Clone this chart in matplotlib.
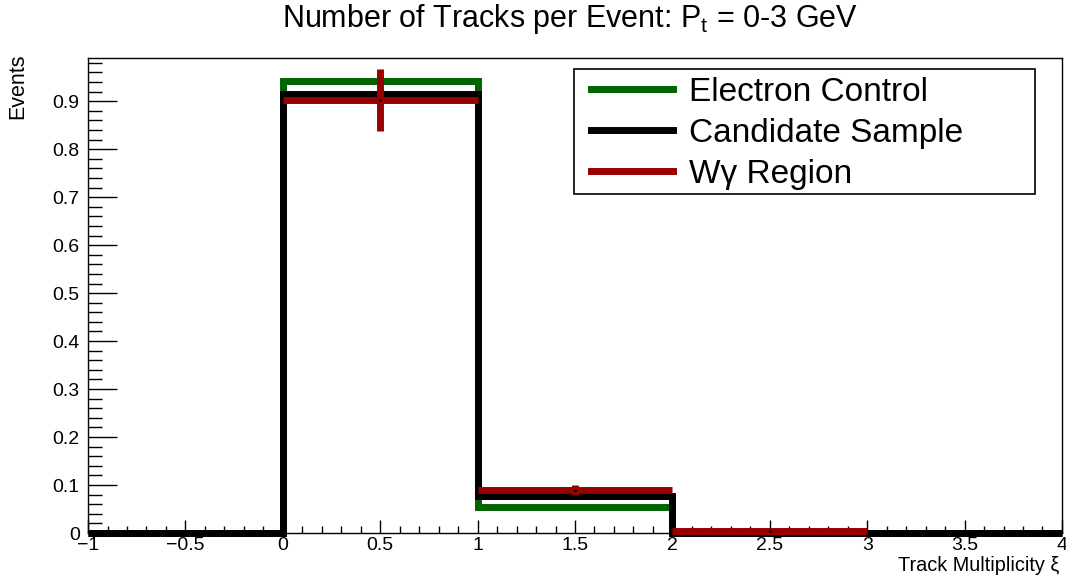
import numpy as np
import matplotlib
matplotlib.use("Agg")
import matplotlib.pyplot as plt
from matplotlib.ticker import MultipleLocator, FuncFormatter
from matplotlib.lines import Line2D
from matplotlib.patches import Rectangle

plt.rcParams['font.family'] = ['Liberation Sans', 'DejaVu Sans']

# Histogram bins in track multiplicity
bin_edges = [-1, 0, 1, 2, 3, 4]
electron_control = [0.0, 0.942, 0.054, 0.001, 0.0]
candidate_sample = [0.0, 0.915, 0.077, 0.0, 0.0]

# W-gamma region: bin centers, values and statistical errors
wg_centers = [0.5, 1.5, 2.5]
wg_values = [0.903, 0.090, 0.004]
wg_errors = [0.065, 0.010, 0.0005]

x_ticks = [-1, -0.5, 0, 0.5, 1, 1.5, 2, 2.5, 3, 3.5, 4]
x_tick_labels = ['\u22121', '\u22120.5', '0', '0.5', '1', '1.5', '2', '2.5', '3', '3.5', '4']

green = '#006400'
red = '#990000'

fig = plt.figure(figsize=(10.66, 5.84), dpi=100)
ax = fig.add_axes([0.0826, 0.0873, 0.9136, 0.8134])

lw = 5
ax.stairs(electron_control, bin_edges, color=green, lw=lw, baseline=None,
          clip_on=False, zorder=2)
ax.stairs(candidate_sample, bin_edges, color='black', lw=lw, baseline=None,
          clip_on=False, zorder=3)
ax.errorbar(wg_centers, wg_values, xerr=0.5, yerr=wg_errors, fmt='none',
            ecolor=red, elinewidth=lw, capsize=0, zorder=4, clip_on=False)
ax.plot(wg_centers, wg_values, ls='none', marker='s', ms=1.2, color='black',
        zorder=5)

ax.set_xlim(-1, 4)
ax.set_ylim(0, 0.99)

ax.xaxis.set_minor_locator(MultipleLocator(0.1))
ax.yaxis.set_major_locator(MultipleLocator(0.1))
ax.yaxis.set_minor_locator(MultipleLocator(0.02))
ax.yaxis.set_major_formatter(FuncFormatter(lambda v, p: '0' if abs(v) < 1e-9 else f'{v:.1f}'))
ax.tick_params(axis='both', which='both', direction='in', top=False, right=False,
               labelsize=14, width=1)
ax.tick_params(axis='y', which='major', length=21)
ax.tick_params(axis='y', which='minor', length=10)
ax.tick_params(axis='x', which='major', length=9.5)
ax.tick_params(axis='x', which='minor', length=5)
ax.tick_params(axis='x', pad=3)
ax.tick_params(axis='y', pad=6)

ax.set_xticks(x_ticks)
ax.set_xticklabels(x_tick_labels)

for s in ax.spines.values():
    s.set_linewidth(1)

fig.text(0.535, 0.968, 'Number of Tracks per Event: P$_{\\mathregular{t}}$ = 0-3 GeV',
         ha='center', va='center', fontsize=22)
fig.text(0.017, 0.909, 'Events', rotation=90, ha='center', va='top', fontsize=15.5)
fig.text(0.994, 0.031, 'Track Multiplicity \u03be', ha='right', va='center', fontsize=14.3)

# Legend box frame
ax.add_patch(Rectangle((0.499, 0.714), 0.473, 0.263, transform=ax.transAxes,
                       facecolor='white', edgecolor='black', lw=1.2,
                       zorder=6, clip_on=False))

handles = [Line2D([], [], color=green, lw=lw),
           Line2D([], [], color='black', lw=lw),
           Line2D([], [], color=red, lw=lw)]
leg = ax.legend(handles, ['Electron Control', 'Candidate Sample', 'W\u03b3 Region'],
                loc='upper left', bbox_to_anchor=(0.499, 0.996),
                fontsize=24, frameon=False, borderpad=0.5, handlelength=2.46,
                handletextpad=0.5, labelspacing=0.30, borderaxespad=0)
leg.set_zorder(7)

fig.savefig('out.png', dpi=100)
